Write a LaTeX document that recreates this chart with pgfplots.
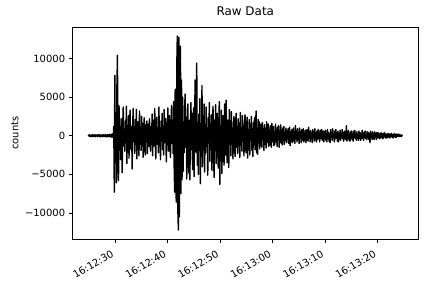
\documentclass[border=0pt]{standalone}
\usepackage{fontspec}
\setmainfont{DejaVu Sans}
\usepackage{pgfplots}
\pgfplotsset{compat=1.18}
\begin{document}
\begin{tikzpicture}
\useasboundingbox (-72.3bp,-49bp) rectangle (359.7bp,239bp);
\begin{axis}[
  at={(0,0)}, anchor=south west,
  scale only axis, width=346bp, height=212bp,
  xmin=21.8, xmax=87.7, ymin=-13360, ymax=14060,
  axis line style={line width=0.8bp},
  tick style={line width=0.8bp, black},
  tick align=outside, major tick length=3.5bp,
  xtick pos=bottom, ytick pos=left,
  xtick={30,40,50,60,70,80},
  xticklabels={},
  ytick={-10000,-5000,0,5000,10000},
  yticklabels={−10000,−5000,0,5000,10000},
  scaled y ticks=false,
  tick label style={font=\fontsize{10}{12}\selectfont, inner sep=0pt},
  yticklabel shift=3.5bp,
  ylabel={counts}, ylabel shift=3bp,
  ylabel style={font=\fontsize{10}{12}\selectfont},
  title={Raw Data},
  title style={font=\fontsize{12}{14.4}\selectfont, at={(0.5,1)}, anchor=base, yshift=6bp, inner sep=0pt},
  clip mode=individual,
]
\addplot[black, line width=1.4bp, line join=round, mark=none] coordinates {
(24.8,0)(24.9,80)(25.0,-60)(25.1,120)(25.2,-90)(25.3,40)(25.4,-130)(25.5,100)(25.6,-50)(25.7,150)
(25.8,-110)(25.9,60)(26.0,-80)(26.1,130)(26.2,-140)(26.3,90)(26.4,-40)(26.5,110)(26.6,-120)(26.7,70)
(26.8,-90)(26.9,160)(27.0,-100)(27.1,50)(27.2,-150)(27.3,120)(27.4,-60)(27.5,90)(27.6,-130)(27.7,140)
(27.8,-80)(27.9,60)(28.0,-110)(28.1,170)(28.2,-120)(28.3,80)(28.4,-160)(28.5,130)(28.6,-70)(28.7,110)
(28.8,-140)(28.9,180)(29.0,-100)(29.1,150)(29.2,-190)(29.3,200)(29.4,-150)(29.5,260)(29.6,-220)
(29.7,1200)(29.8,-7300)(29.9,7800)(30.0,-3500)(30.1,2500)(30.2,-6100)(30.3,6500)(30.4,10400)(30.5,-4200)(30.6,-5800)
(30.7,3900)(30.8,-1200)(30.9,800)(31.0,-3100)(31.1,2200)(31.2,-600)(31.3,-4800)(31.4,1100)(31.5,3700)(31.6,-1300)
(31.7,500)(31.8,-2000)(31.9,1900)(32.0,-900)(32.1,3800)(32.2,-3600)(32.3,1300)(32.4,-700)(32.5,2600)(32.6,-2900)
(32.7,900)(32.8,3300)(32.9,-1400)(33.0,-1800)(33.1,1200)(33.2,-4300)(33.3,1500)(33.4,3500)(33.5,-800)(33.6,600)
(33.7,-2300)(33.8,2100)(33.9,-1100)(34.0,3400)(34.1,-3000)(34.2,700)(34.3,1800)(34.4,-1200)(34.5,-2600)(34.6,3200)
(34.7,-600)(34.8,1000)(34.9,-1900)(35.0,2500)(35.1,-1300)(35.2,1600)(35.3,-2800)(35.4,500)(35.5,2300)(35.6,-900)
(35.7,-2500)(35.8,1400)(35.9,-700)(36.0,1900)(36.1,-2300)(36.2,800)(36.3,1500)(36.4,-1400)(36.5,2200)(36.6,-600)
(36.7,-2000)(36.8,1200)(36.9,-1100)(37.0,2800)(37.1,-2600)(37.2,900)(37.3,2000)(37.4,-1300)(37.5,3500)(37.6,-800)
(37.7,-3000)(37.8,1500)(37.9,2400)(38.0,-1100)(38.1,700)(38.2,-2200)(38.3,3700)(38.4,-1400)(38.5,1000)(38.6,-3100)
(38.7,1900)(38.8,-700)(38.9,2900)(39.0,-1800)(39.1,1200)(39.2,-2500)(39.3,3400)(39.4,-900)(39.5,600)(39.6,2200)
(39.7,-3400)(39.8,1300)(39.9,-1200)(40.0,3600)(40.1,-2000)(40.2,800)(40.3,2600)(40.4,-1500)(40.5,-2800)(40.6,1100)
(40.7,3900)(40.8,-1000)(40.9,1700)(41.0,-2300)
(41.1,4400)(41.2,-4000)(41.3,-7300)(41.4,6000)(41.5,-5000)(41.6,-8600)(41.7,9000)(41.8,12900)(41.9,-9500)(42.0,-12200)
(42.1,12700)(42.2,-10500)(42.3,8000)(42.4,11600)(42.5,-7500)(42.6,7200)(42.7,-5700)(42.8,5000)
(42.9,-4600)(43.0,1800)(43.1,-2200)(43.2,3800)(43.3,5400)(43.4,-1500)(43.5,2400)(43.6,-5600)(43.7,1300)(43.8,4100)
(43.9,-2600)(44.0,-4800)(44.1,2000)(44.2,-5700)(44.3,1600)(44.4,4300)(44.5,-1800)(44.6,2900)(44.7,-4400)(44.8,1200)
(44.9,3600)(45.0,-5300)(45.1,2300)(45.2,7200)(45.3,-2100)(45.4,4600)(45.5,9400)(45.6,-3800)(45.7,1700)(45.8,-5000)
(45.9,2800)(46.0,-1900)(46.1,4800)(46.2,-6200)(46.3,1500)(46.4,-2400)(46.5,6500)(46.6,-4000)(46.7,2200)(46.8,-1600)
(46.9,4100)(47.0,-4700)(47.1,1400)(47.2,-2200)
(47.3,3700)(47.4,-1300)(47.5,1000)(47.6,-5100)(47.7,2300)(47.8,-900)(47.9,4300)(48.0,-3300)(48.1,1600)(48.2,-1800)
(48.3,2700)(48.4,-4500)(48.5,1200)(48.6,3800)(48.7,-1500)(48.8,-5400)(48.9,2000)(49.0,-1100)(49.1,4000)(49.2,-3600)
(49.3,900)(49.4,2900)(49.5,-2000)(49.6,-4200)(49.7,1500)(49.8,4400)(49.9,-6300)(50.0,1100)(50.1,-1400)(50.2,3300)
(50.3,-4900)(50.4,1800)(50.5,2600)(50.6,-1200)(50.7,-3800)(50.8,4100)(50.9,1300)(51.0,-2500)(51.1,4600)(51.2,-1600)
(51.3,-3500)(51.4,2000)(51.5,800)(51.6,-4100)(51.7,3400)(51.8,-1000)(51.9,1900)(52.0,-2600)
(52.1,3100)(52.2,-1100)(52.3,700)(52.4,-3000)(52.5,1400)(52.6,2500)(52.7,-900)(52.8,-2700)(52.9,1200)(53.0,2900)
(53.1,-1500)(53.2,600)(53.3,-2300)(53.4,2200)(53.5,-800)(53.6,1100)(53.7,-2800)(53.8,3000)(53.9,-1200)(54.0,900)
(54.1,-2000)(54.2,2600)(54.3,-700)(54.4,1300)(54.5,-2600)(54.6,1800)(54.7,2700)(54.8,-1000)(54.9,-2200)(55.0,1000)
(55.1,2400)(55.2,-2900)(55.3,800)(55.4,-1300)(55.5,2100)(55.6,-2500)(55.7,1200)(55.8,-600)(55.9,2500)(56.0,-1900)
(56.1,900)(56.2,-2700)(56.3,1700)(56.4,-1100)(56.5,2300)(56.6,-1800)(56.7,700)(56.8,3200)(56.9,-2200)(57.0,1000)
(57.1,-2400)(57.2,2100)
(57.3,-900)(57.4,1800)(57.5,-1700)(57.6,600)(57.7,1500)(57.8,-800)(57.9,-1500)(58.0,1700)(58.1,-500)(58.2,900)
(58.3,-1900)(58.4,1400)(58.5,-700)(58.6,600)(58.7,-1600)(58.8,1800)(58.9,-900)(59.0,500)(59.1,1500)(59.2,-1400)
(59.3,800)(59.4,-1200)(59.5,1300)(59.6,-600)(59.7,-1500)(59.8,1600)(59.9,-800)(60.0,700)(60.1,1200)(60.2,-1300)
(60.3,500)(60.4,-1100)(60.5,1500)(60.6,-700)(60.7,800)(60.8,-1400)(60.9,1100)(61.0,-500)(61.1,1300)(61.2,-1500)
(61.3,600)(61.4,-800)(61.5,1400)(61.6,-1000)(61.7,700)(61.8,-1200)(61.9,1000)(62.0,-600)
(62.1,1200)(62.2,-1100)(62.3,400)(62.4,-500)(62.5,1000)(62.6,-900)(62.7,600)(62.8,-400)(62.9,900)(63.0,-1000)
(63.1,300)(63.2,1100)(63.3,-1300)(63.4,500)(63.5,-600)(63.6,800)(63.7,-900)(63.8,400)(63.9,1000)(64.0,-700)
(64.1,500)(64.2,-1000)(64.3,1300)(64.4,-400)(64.5,600)(64.6,-800)(64.7,900)(64.8,-500)(64.9,400)(65.0,-1000)
(65.1,1000)(65.2,-300)(65.3,500)(65.4,-900)(65.5,800)(65.6,-600)(65.7,300)(65.8,900)(65.9,-800)(66.0,400)
(66.1,-500)(66.2,700)(66.3,-900)(66.4,300)(66.5,800)(66.6,-400)(66.7,-700)(66.8,1100)(66.9,-300)(67.0,500)
(67.1,-800)(67.2,700)(67.3,-400)(67.4,300)(67.5,-900)(67.6,800)(67.7,-300)(67.8,500)(67.9,-700)(68.0,900)
(68.1,-400)(68.2,300)(68.3,-800)(68.4,600)(68.5,-500)(68.6,800)(68.7,-300)(68.8,400)(68.9,-800)(69.0,700)
(69.1,-400)(69.2,300)(69.3,800)(69.4,-600)(69.5,-300)(69.6,600)(69.7,-800)(69.8,500)(69.9,-400)(70.0,700)
(70.1,-600)(70.2,300)(70.3,-800)(70.4,800)(70.5,-300)(70.6,400)(70.7,-700)(70.8,300)(70.9,-900)(71.0,800)
(71.1,-200)(71.2,400)(71.3,-600)(71.4,900)(71.5,-300)(71.6,200)(71.7,-800)(71.8,600)(71.9,-400)(72.0,800)
(72.1,-300)(72.2,300)(72.3,-700)(72.4,600)(72.5,-800)(72.6,200)(72.7,-400)(72.8,700)(72.9,-600)(73.0,300)
(73.1,-300)(73.2,800)(73.3,-400)(73.4,200)(73.5,-700)(73.6,600)(73.7,-300)(73.8,400)(73.9,-500)(74.0,1300)
(74.1,-700)(74.2,300)(74.3,-400)(74.4,700)(74.5,-600)(74.6,200)(74.7,-700)(74.8,500)(74.9,-300)(75.0,600)
(75.1,-500)(75.2,200)(75.3,-700)(75.4,600)(75.5,-200)(75.6,700)(75.7,-400)(75.8,300)(75.9,-600)(76.0,500)
(76.1,-300)(76.2,200)(76.3,-600)(76.4,600)(76.5,-200)(76.6,400)(76.7,-600)(76.8,300)(76.9,-400)(77.0,700)
(77.1,-300)(77.2,200)(77.3,-600)(77.4,500)(77.5,-200)(77.6,600)(77.7,-400)(77.8,200)(77.9,-500)(78.0,500)
(78.1,-200)(78.2,400)(78.3,-500)(78.4,300)(78.5,-900)(78.6,600)(78.7,-200)(78.8,300)(78.9,-500)(79.0,500)
(79.1,-300)(79.2,200)(79.3,-500)(79.4,500)(79.5,-200)(79.6,300)(79.7,-500)(79.8,400)(79.9,-300)
(80.0,400)(80.1,-200)(80.2,300)(80.3,-400)(80.4,200)(80.5,-300)(80.6,400)(80.7,-200)(80.8,300)(80.9,-400)
(81.0,200)(81.1,-300)(81.2,400)(81.3,-100)(81.4,300)(81.5,-300)(81.6,200)(81.7,-300)(81.8,200)(81.9,-200)
(82.0,300)(82.1,-200)(82.2,200)(82.3,-300)(82.4,200)(82.5,-100)(82.6,300)(82.7,-200)(82.8,100)(82.9,-300)
(83.0,200)(83.1,-100)(83.2,300)(83.3,-200)(83.4,100)(83.5,-200)(83.6,200)(83.7,-100)(83.8,200)(83.9,-100)
(84.0,200)(84.1,-100)(84.2,100)(84.3,-100)(84.4,100)(84.5,-100)(84.6,50)(84.7,0)
};
\begin{scope}[every node/.style={anchor=north east, rotate=30, inner sep=0pt, font=\fontsize{10}{12}\selectfont}]
\node at ([xshift=-4.6bp,yshift=-10.5bp]axis cs:30,-13360) {16:12:30};
\node at ([xshift=-4.6bp,yshift=-10.5bp]axis cs:40,-13360) {16:12:40};
\node at ([xshift=-4.6bp,yshift=-10.5bp]axis cs:50,-13360) {16:12:50};
\node at ([xshift=-4.6bp,yshift=-10.5bp]axis cs:60,-13360) {16:13:00};
\node at ([xshift=-4.6bp,yshift=-10.5bp]axis cs:70,-13360) {16:13:10};
\node at ([xshift=-4.6bp,yshift=-10.5bp]axis cs:80,-13360) {16:13:20};
\end{scope}
\end{axis}
\end{tikzpicture}
\end{document}
